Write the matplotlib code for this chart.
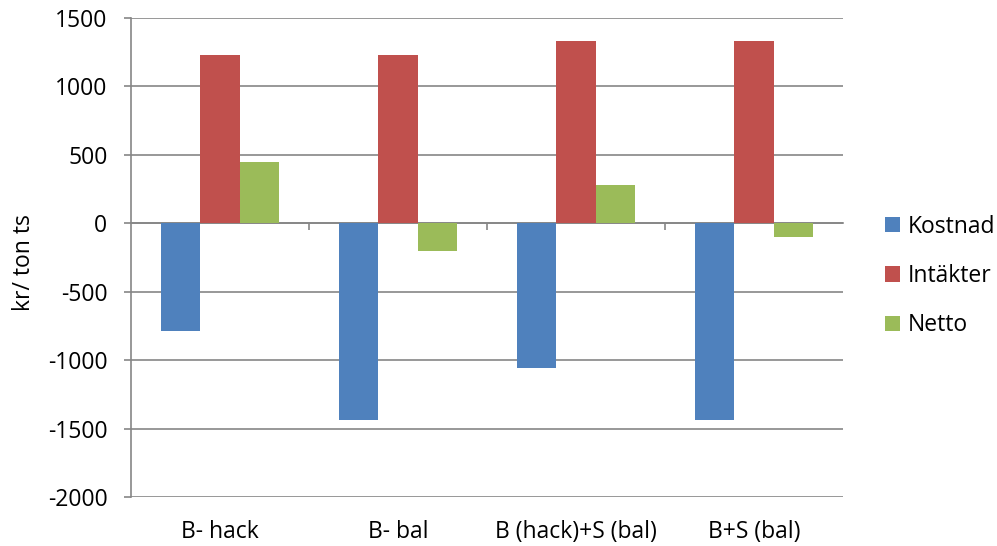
import matplotlib.pyplot as plt
import numpy as np

plt.rcParams["font.family"] = ["Open Sans", "DejaVu Sans"]
plt.rcParams["axes.unicode_minus"] = False

categories = ["B- hack", "B- bal", "B (hack)+S (bal)", "B+S (bal)"]
kostnad = [-785, -1435, -1055, -1435]
intakter = [1230, 1230, 1330, 1330]
netto = [450, -200, 280, -100]

series = [("Kostnad", kostnad, "#4f81bd"),
          ("Intäkter", intakter, "#c0504d"),
          ("Netto", netto, "#9bbb59")]

fs = 16.5
grey = "#868686"

fig = plt.figure(figsize=(9.97, 5.46), dpi=100)
ax = fig.add_axes([0.1314, 0.0897, 0.7141, 0.8773])

x = np.arange(len(categories))
w = 1 / 4.5
for i, (name, vals, col) in enumerate(series):
    ax.bar(x + (i - 1) * w, vals, w, color=col, label=name, zorder=3)

ax.set_ylim(-2000, 1500)
ax.set_xlim(-0.5, len(categories) - 0.5)
ax.set_yticks(np.arange(-2000, 1501, 500))
ax.yaxis.grid(True, color=grey, linewidth=1.2, zorder=0)
ax.tick_params(axis="y", labelsize=fs, length=5, pad=12, color=grey, width=1.2)

# x axis on the zero line, category labels down at the bottom
ax.spines["bottom"].set_position(("data", 0))
for s in ["bottom", "left"]:
    ax.spines[s].set_color(grey)
    ax.spines[s].set_linewidth(1.2)
ax.spines["top"].set_visible(False)
ax.spines["right"].set_visible(False)
ax.set_xticks(x[:-1] + 0.5)
ax.set_xticklabels([])
ax.tick_params(axis="x", length=5, color=grey, width=1.2)
for xi, lab in zip(x, categories):
    ax.text(xi, -0.073, lab, transform=ax.get_xaxis_transform(),
            ha="center", va="center", fontsize=fs)

ax.set_ylabel("kr/ ton ts", fontsize=fs)
ax.yaxis.set_label_coords(-0.133, 0.49)

fig.legend(loc="center left", bbox_to_anchor=(0.8877, 0.4945), frameon=False,
           fontsize=fs, labelspacing=1.1, handlelength=0.65, handleheight=0.65,
           handletextpad=0.35, borderpad=0, borderaxespad=0)

plt.savefig("out.png", dpi=100)
